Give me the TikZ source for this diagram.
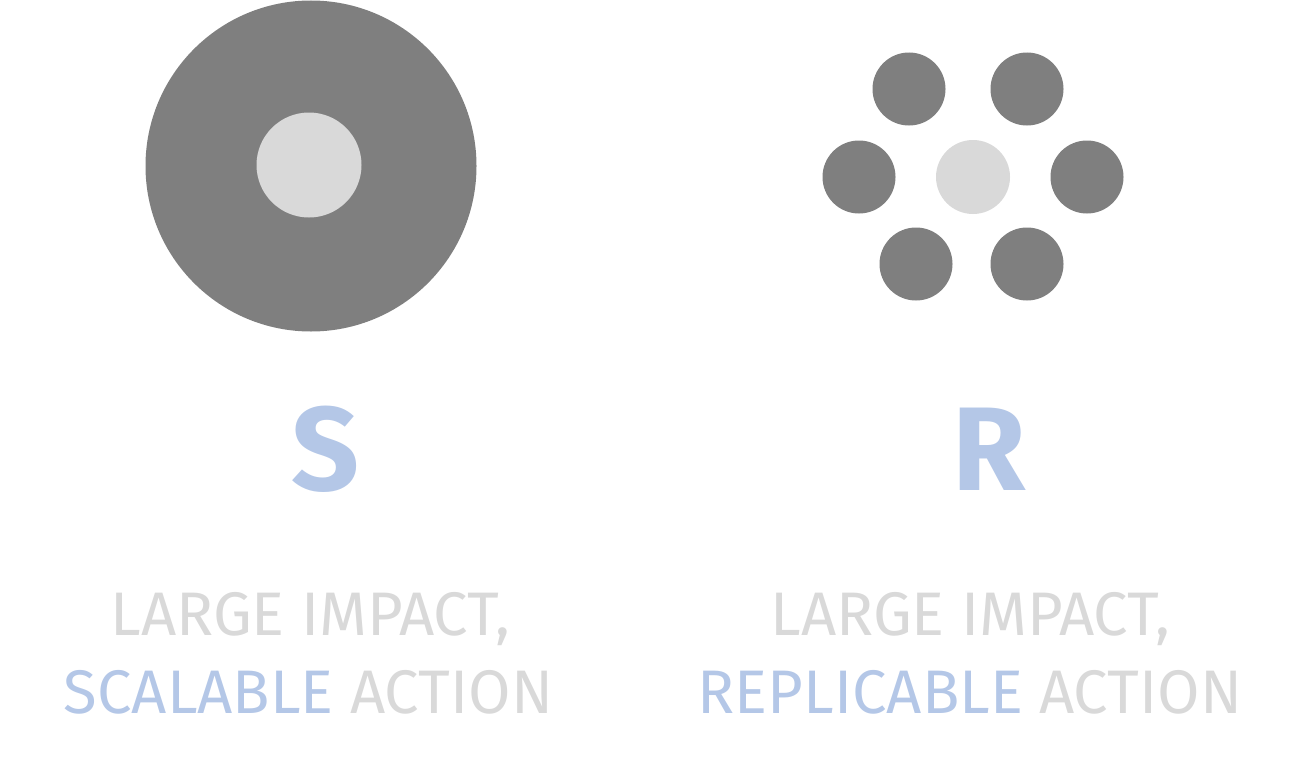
\documentclass[tikz,border=0pt]{standalone}
\usepackage{fontspec}
\newfontfamily\captionfont{Fira Sans}
\newfontfamily\boldfont{Fira Sans Bold}
\definecolor{darkdisc}{HTML}{7F7F7F}
\definecolor{lightdisc}{HTML}{D9D9D9}
\definecolor{accent}{HTML}{B4C7E7}
\definecolor{caption}{HTML}{D9D9D9}
\begin{document}
\begin{tikzpicture}[x=1pt,y=-1pt,
  disc/.style={circle,inner sep=0pt,fill=darkdisc,minimum size=#1},
  core/.style={circle,inner sep=0pt,fill=lightdisc,minimum size=#1},
  letter/.style={inner sep=0pt,anchor=base,text=accent,font=\boldfont\fontsize{119}{119}\selectfont},
  captionline/.style={inner sep=0pt,anchor=base,text=caption,font=\captionfont\fontsize{61.5}{61.5}\selectfont}]
\useasboundingbox (0,0) rectangle (1297,768);
% scalable: one large disc
\node[disc=331pt] (big) at (311,166) {};
\node[core=105pt] (bigcore) at (309,165) {};
% replicable: ring of small discs
\node[core=74pt] (smallcore) at (973,177) {};
\node[disc=73pt] (d1) at (909,89) {};
\node[disc=73pt] (d2) at (1027,89) {};
\node[disc=73pt] (d3) at (859,177) {};
\node[disc=73pt] (d4) at (1087,177) {};
\node[disc=73pt] (d5) at (916,264) {};
\node[disc=73pt] (d6) at (1027,264) {};
% letters
\node[letter] (S) at (326,490) {S};
\node[letter] (R) at (989,490) {R};
% captions
\node[captionline] (s1) at (310.5,635) {LARGE IMPACT,};
\node[captionline] (s2) at (308.5,713) {\textcolor{accent}{SCALABLE} ACTION};
\node[captionline] (r1) at (970.5,635) {LARGE IMPACT,};
\node[captionline] (r2) at (970,713) {\textcolor{accent}{REPLICABLE} ACTION};
\end{tikzpicture}
\end{document}
